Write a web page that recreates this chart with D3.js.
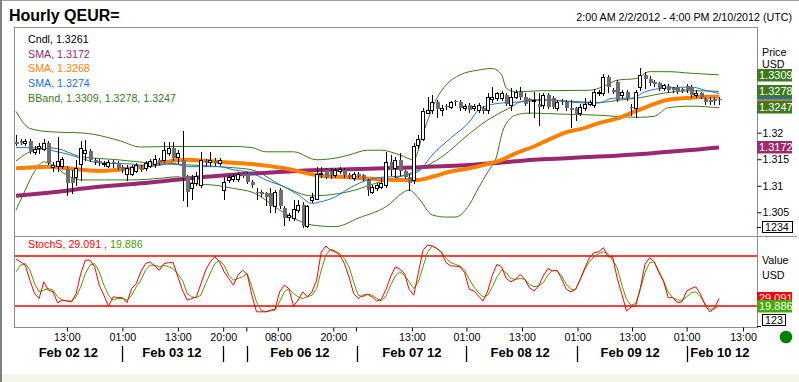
<!DOCTYPE html>
<html><head><meta charset="utf-8">
<script src="https://cdn.jsdelivr.net/npm/d3@7"></script>
<style>
html,body{margin:0;padding:0;background:#fff;overflow:hidden;}
svg{display:block;font-family:Arial,"Liberation Sans",sans-serif;}
</style></head><body>
<svg id="c" width="799" height="382"></svg>
<script>
// ---------------- data ----------------
const openP = [1.3183,1.3184,1.3180,1.3185,1.3163,1.3171,1.3169,1.3181,1.3136,1.3138,
1.3137,1.3131,1.3115,1.3116,1.3141,1.3162,1.3166,1.3149,1.3146,1.3141,
1.3138,1.3145,1.3143,1.3136,1.3123,1.3123,1.3128,1.3134,1.3133,1.3138,
1.3141,1.3149,1.3149,1.3162,1.3171,1.3154,1.3149,1.3118,1.3095,1.3105,
1.3101,1.3147,1.3145,1.3147,1.3142,1.3092,1.3111,1.3112,1.3112,1.3123,
1.3123,1.3108,1.3089,1.3088,1.3086,1.3086,1.3061,1.3092,1.3058,1.3041,
1.3039,1.3054,1.3064,1.3025,1.3073,1.3076,1.3123,1.3130,1.3127,1.3120,
1.3128,1.3130,1.3120,1.3114,1.3122,1.3120,1.3111,1.3089,1.3095,1.3098,
1.3101,1.3145,1.3133,1.3149,1.3127,1.3117,1.3111,1.3177,1.3189,1.3238,
1.3243,1.3257,1.3243,1.3250,1.3249,1.3260,1.3258,1.3247,1.3252,1.3246,
1.3243,1.3246,1.3243,1.3263,1.3265,1.3265,1.3271,1.3252,1.3268,1.3277,
1.3268,1.3263,1.3260,1.3255,1.3252,1.3271,1.3265,1.3246,1.3260,1.3258,
1.3246,1.3246,1.3237,1.3246,1.3255,1.3252,1.3274,1.3274,1.3305,1.3280,
1.3296,1.3271,1.3277,1.3249,1.3246,1.3287,1.3309,1.3302,1.3295,1.3293,
1.3284,1.3288,1.3284,1.3287,1.3282,1.3288,1.3287,1.3271,1.3274,1.3263,
1.3262,1.3263,1.3263];
const highP = [1.3196,1.3188,1.3188,1.3188,1.3175,1.3181,1.3188,1.3184,1.3145,1.3191,
1.3154,1.3137,1.3130,1.3149,1.3185,1.3186,1.3169,1.3152,1.3150,1.3147,
1.3149,1.3149,1.3147,1.3139,1.3139,1.3139,1.3143,1.3139,1.3147,1.3150,
1.3158,1.3152,1.3183,1.3183,1.3183,1.3167,1.3203,1.3120,1.3120,1.3126,
1.3164,1.3150,1.3164,1.3152,1.3152,1.3117,1.3120,1.3122,1.3126,1.3125,
1.3126,1.3111,1.3095,1.3092,1.3089,1.3095,1.3092,1.3096,1.3061,1.3049,
1.3073,1.3073,1.3070,1.3064,1.3086,1.3136,1.3136,1.3133,1.3133,1.3133,
1.3135,1.3133,1.3124,1.3126,1.3126,1.3122,1.3113,1.3101,1.3105,1.3114,
1.3164,1.3158,1.3155,1.3161,1.3130,1.3123,1.3180,1.3196,1.3246,1.3268,
1.3271,1.3262,1.3252,1.3254,1.3260,1.3262,1.3262,1.3254,1.3256,1.3254,
1.3256,1.3250,1.3274,1.3287,1.3277,1.3279,1.3275,1.3284,1.3280,1.3286,
1.3275,1.3265,1.3277,1.3274,1.3275,1.3275,1.3269,1.3262,1.3263,1.3262,
1.3262,1.3249,1.3255,1.3265,1.3262,1.3282,1.3280,1.3311,1.3309,1.3284,
1.3299,1.3280,1.3280,1.3255,1.3280,1.3321,1.3315,1.3307,1.3299,1.3296,
1.3292,1.3292,1.3287,1.3290,1.3284,1.3292,1.3290,1.3280,1.3277,1.3268,
1.3268,1.3268,1.3268];
const lowP = [1.3177,1.3179,1.3177,1.3162,1.3160,1.3162,1.3167,1.3141,1.3128,1.3128,
1.3133,1.3083,1.3087,1.3101,1.3111,1.3149,1.3147,1.3141,1.3139,1.3137,
1.3135,1.3136,1.3132,1.3126,1.3111,1.3120,1.3126,1.3128,1.3130,1.3135,
1.3136,1.3141,1.3145,1.3158,1.3149,1.3142,1.3073,1.3062,1.3076,1.3101,
1.3097,1.3139,1.3139,1.3139,1.3139,1.3075,1.3107,1.3109,1.3109,1.3117,
1.3105,1.3098,1.3076,1.3081,1.3064,1.3051,1.3051,1.3058,1.3026,1.3036,
1.3036,1.3051,1.3023,1.3023,1.3070,1.3075,1.3117,1.3115,1.3115,1.3117,
1.3124,1.3117,1.3115,1.3111,1.3117,1.3111,1.3083,1.3086,1.3092,1.3096,
1.3098,1.3120,1.3117,1.3120,1.3115,1.3092,1.3105,1.3171,1.3186,1.3237,
1.3237,1.3230,1.3233,1.3245,1.3247,1.3252,1.3243,1.3243,1.3239,1.3243,
1.3239,1.3237,1.3237,1.3258,1.3262,1.3262,1.3252,1.3243,1.3265,1.3263,
1.3252,1.3237,1.3230,1.3215,1.3246,1.3247,1.3247,1.3243,1.3254,1.3243,
1.3211,1.3224,1.3233,1.3243,1.3252,1.3249,1.3271,1.3271,1.3277,1.3275,
1.3260,1.3265,1.3262,1.3233,1.3230,1.3280,1.3284,1.3290,1.3288,1.3280,
1.3280,1.3277,1.3277,1.3275,1.3277,1.3277,1.3268,1.3268,1.3265,1.3255,
1.3255,1.3255,1.3255];
const closeP = [1.3179,1.3181,1.3184,1.3163,1.3170,1.3174,1.3181,1.3142,1.3140,1.3147,
1.3150,1.3105,1.3105,1.3133,1.3171,1.3167,1.3149,1.3144,1.3142,1.3143,
1.3145,1.3142,1.3133,1.3130,1.3133,1.3136,1.3139,1.3130,1.3143,1.3147,
1.3150,1.3143,1.3167,1.3171,1.3152,1.3161,1.3114,1.3089,1.3105,1.3118,
1.3149,1.3142,1.3149,1.3142,1.3149,1.3108,1.3117,1.3118,1.3122,1.3118,
1.3108,1.3101,1.3086,1.3085,1.3079,1.3062,1.3089,1.3061,1.3039,1.3045,
1.3057,1.3064,1.3025,1.3061,1.3079,1.3123,1.3125,1.3117,1.3120,1.3130,
1.3131,1.3120,1.3117,1.3122,1.3119,1.3114,1.3092,1.3098,1.3101,1.3105,
1.3145,1.3130,1.3149,1.3127,1.3117,1.3105,1.3174,1.3189,1.3240,1.3243,
1.3258,1.3244,1.3246,1.3248,1.3257,1.3257,1.3246,1.3250,1.3243,1.3250,
1.3252,1.3240,1.3268,1.3267,1.3274,1.3274,1.3255,1.3268,1.3277,1.3268,
1.3255,1.3260,1.3262,1.3249,1.3271,1.3249,1.3249,1.3258,1.3257,1.3246,
1.3243,1.3233,1.3248,1.3255,1.3258,1.3277,1.3277,1.3305,1.3287,1.3277,
1.3262,1.3277,1.3265,1.3246,1.3277,1.3309,1.3302,1.3293,1.3291,1.3284,
1.3289,1.3280,1.3280,1.3277,1.3279,1.3280,1.3271,1.3275,1.3268,1.3258,
1.3258,1.3260,1.3261];

// SMA / Bollinger lines, read at sampled bar positions
const smaLongIdx = [0,7,18,29,40,51,61,72,83,98,105,112,119,126,137,148,152];
const smaLongVal = [1.3081,1.3087,1.3098,1.3106,1.3116,1.3123,1.3128,1.3131,1.3134,1.3139,1.3144,1.3149,1.3152,1.3155,1.3161,1.3169,1.3172];
const smaMidIdx = [0,7,11,18,25,31,36,44,51,58,65,72,79,83,87,90,94,98,101,105,108,112,115,119,123,126,130,135,141,146,152];
const smaMidVal = [1.3133,1.3136,1.3133,1.3128,1.3133,1.3142,1.3149,1.3145,1.3141,1.3133,1.3120,1.3116,1.3112,1.3111,1.3111,1.3117,1.3127,1.3133,1.3139,1.3149,1.3161,1.3174,1.3186,1.3201,1.3209,1.3218,1.3227,1.3244,1.3262,1.3266,1.3268];
const smaShortIdx = [0,6,8,11,14,18,25,29,34,37,44,47,51,54,58,61,64,66,69,72,76,79,83,87,90,94,98,100,102,105,109,115,123,126,129,133,136,140,146,149,152];
const smaShortVal = [1.3172,1.3171,1.3166,1.3160,1.3152,1.3143,1.3141,1.3137,1.3142,1.3136,1.3136,1.3130,1.3124,1.3111,1.3098,1.3083,1.3067,1.3070,1.3079,1.3095,1.3111,1.3116,1.3118,1.3127,1.3158,1.3190,1.3220,1.3243,1.3251,1.3256,1.3258,1.3262,1.3256,1.3256,1.3265,1.3265,1.3277,1.3284,1.3286,1.3280,1.3274];
const bbUpIdx = [0,3,7,15,22,27,33,40,47,51,54,60,65,69,72,76,79,83,86,88,91,93,96,100,103,105,106,108,113,124,127,130,134,137,141,146,152];
const bbUpVal = [1.3240,1.3208,1.3202,1.3199,1.3186,1.3173,1.3174,1.3174,1.3174,1.3172,1.3164,1.3164,1.3149,1.3152,1.3158,1.3167,1.3167,1.3158,1.3149,1.3199,1.3265,1.3290,1.3309,1.3318,1.3321,1.3309,1.3284,1.3277,1.3279,1.3280,1.3287,1.3299,1.3302,1.3315,1.3315,1.3312,1.3309];
const bbMidIdx = [0,4,8,14,22,29,38,47,51,58,64,72,79,83,87,92,98,102,105,107,109,112,118,126,131,135,139,146,152];
const bbMidVal = [1.3147,1.3167,1.3171,1.3155,1.3149,1.3143,1.3139,1.3134,1.3130,1.3098,1.3081,1.3089,1.3108,1.3117,1.3130,1.3154,1.3198,1.3224,1.3239,1.3248,1.3258,1.3262,1.3260,1.3257,1.3262,1.3266,1.3273,1.3279,1.3278];
const bbLoIdx = [0,2,4,6,8,11,14,25,31,35,38,44,47,51,58,64,69,74,81,83,85,87,90,93,95,98,100,102,104,105,107,108,111,118,126,131,135,138,141,146,152];
const bbLoVal = [1.3054,1.3092,1.3127,1.3145,1.3139,1.3120,1.3111,1.3111,1.3114,1.3117,1.3105,1.3100,1.3095,1.3088,1.3049,1.3026,1.3023,1.3039,1.3067,1.3083,1.3092,1.3077,1.3045,1.3041,1.3041,1.3064,1.3096,1.3126,1.3158,1.3196,1.3228,1.3233,1.3237,1.3235,1.3233,1.3230,1.3229,1.3231,1.3247,1.3250,1.3247];

const stochK = [76,73,69,51,35,29,49,39,37,24, 27,26,25,35,59,75,75,67,45,33,
20,31,30,30,24,41,47,61,71,73, 68,63,71,72,72,55,39,27,29,31,
47,63,73,79,73,61,53,45,57,63, 58,33,13,13,13,15,16,37,45,41,
20,27,37,31,37,51,85,92,87,85, 81,71,55,35,29,33,34,31,26,28,
40,55,67,64,59,40,33,60,87,93, 92,89,84,72,68,68,67,60,40,38,
32,26,38,57,70,67,53,49,52,58, 52,42,38,44,56,65,62,63,52,40,
37,40,52,66,78,84,85,90,79,79, 53,34,14,19,20,42,70,78,73,60,
50,30,30,24,25,38,41,43,34,21, 13,17,29.091];
const stochD = [61,69,71,63,47,37,39,41,39,31, 27,26,26,31,43,59,69,71,61,45,
33,27,29,29,27,33,43,51,63,69, 69,67,69,67,65,58,51,35,31,30,
33,47,59,71,75,69,57,51,53,55, 59,43,25,15,13,14,15,25,37,41,
35,31,29,31,33,41,63,81,88,86, 83,77,67,49,33,31,34,33,29,26,
32,45,56,61,57,49,41,49,67,85, 92,89,85,77,72,70,68,63,52,43,
36,31,33,43,55,63,60,53,52,53, 52,46,43,44,48,57,63,62,56,46,
40,40,52,64,73,79,83,85,83,75, 66,45,28,21,23,40,60,72,73,62,
50,37,30,27,27,31,36,37,31,23, 16,17,19.886];

const priceTicks = [1.305,1.31,1.315,1.32,1.325,1.33];
const priceTickLbl = ["1.305","1.31","1.315","1.32","",""];
const timeTickIdx = [11,23,35,44.8,49.8,56.6,68.6,73.5,85.6,97.4,109.4,121.4,133.2,145,157.2];
const timeTickLbl = ["13:00","01:00","13:00","20:00","","08:00","20:00","","13:00","01:00","13:00","01:00","13:00","01:00","13:00"];
const dayLabels = ["Feb 02 12","Feb 03 12","Feb 06 12","Feb 07 12","Feb 08 12","Feb 09 12","Feb 10 12"];
const dayLabelIdx = [11.3,33.7,61.4,85.6,109,132.8,152.2];
const daySepIdx = [23,44.8,49.9,73.7,97.4,121.2,145];

const legendLabels = ["Cndl, 1.3261","SMA, 1.3172","SMA, 1.3268","SMA, 1.3274","BBand, 1.3309, 1.3278, 1.3247"];
const lastValues = {bbUp:1.3309, bbMid:1.3278, bbLo:1.3247, smaLong:1.3172, smaMid:1.3268, smaShort:1.3274, k:29.091, d:19.886};

// ---------------- drawing ----------------
const C = {frame:"#8c8c9c", purple:"#9a2870", orange:"#ff7f00", blue:"#1e6ee6", green:"#3c7a18",
  gray:"#6e6e6e", red:"#ff0000", sgreen:"#44a000", boxGreen:"#3d7a1e", boxSG:"#44aa00"};

const svg = d3.select("#c");
const L = 14, R = 757, T = 27, MB = 236, B = 327;

svg.append("rect").attr("width",799).attr("height",382).attr("fill","#fff");
svg.append("rect").attr("x",0).attr("y",374).attr("width",799).attr("height",8).attr("fill","#f4f4e8");
svg.append("line").attr("x1",0).attr("x2",799).attr("y1",0.5).attr("y2",0.5).attr("stroke","#a0a0a0");
svg.append("line").attr("x1",1).attr("x2",1).attr("y1",0).attr("y2",382).attr("stroke","#808080").attr("stroke-width",2);

const xs = d3.scaleLinear().domain([0,152]).range([16,719]);
const yP = d3.scaleLinear().domain([1.305,1.32]).range([212.3,132.7]);
const yS = d3.scaleLinear().domain([20,80]).range([306,256]);

// title
svg.append("text").attr("x",9).attr("y",21).attr("font-size","16px").attr("font-weight","bold").text("Hourly QEUR=");
svg.append("text").attr("x",792).attr("y",21).attr("text-anchor","end").attr("font-size","10.7px").text("2:00 AM 2/2/2012 - 4:00 PM 2/10/2012 (UTC)");

const defs = svg.append("defs");
defs.append("clipPath").attr("id","cm").append("rect").attr("x",L+1).attr("y",T+1).attr("width",R-L-1).attr("height",MB-T-1);
defs.append("clipPath").attr("id","cs").append("rect").attr("x",L+1).attr("y",MB+1).attr("width",R-L-1).attr("height",B-MB-1);

const gm = svg.append("g").attr("clip-path","url(#cm)");
const gs = svg.append("g").attr("clip-path","url(#cs)");

function pts(idx, val){ return idx.map((d,i)=>[d,val[i]]); }
const lineP = d3.line().x(d=>xs(d[0])).y(d=>yP(d[1])).curve(d3.curveMonotoneX);

// bands and SMAs
[[bbUpIdx,bbUpVal],[bbMidIdx,bbMidVal],[bbLoIdx,bbLoVal]].forEach(([a,b])=>{
  gm.append("path").attr("d",lineP(pts(a,b))).attr("fill","none").attr("stroke",C.green).attr("stroke-width",1);
});
gm.append("path").attr("d",lineP(pts(smaLongIdx,smaLongVal))).attr("fill","none").attr("stroke",C.purple).attr("stroke-width",4);
gm.append("path").attr("d",lineP(pts(smaMidIdx,smaMidVal))).attr("fill","none").attr("stroke",C.orange).attr("stroke-width",4);
gm.append("path").attr("d",lineP(pts(smaShortIdx,smaShortVal))).attr("fill","none").attr("stroke",C.blue).attr("stroke-width",1);

// candles
const candles = closeP.map((c,i)=>({i, o:openP[i], h:highP[i], l:lowP[i], c}));
const cg = gm.append("g");
candles.forEach(d=>{
  const cx = Math.round(xs(d.i));
  cg.append("line").attr("x1",cx+0.5).attr("x2",cx+0.5)
    .attr("y1",Math.round(yP(d.h))).attr("y2",Math.round(yP(d.l))+1)
    .attr("stroke","#000").attr("stroke-width",1);
  const yt = Math.round(yP(Math.max(d.o,d.c))), yb = Math.round(yP(Math.min(d.o,d.c)));
  if (d.c >= d.o){
    cg.append("rect").attr("x",cx-1.5).attr("y",yt+0.5).attr("width",3).attr("height",Math.max(1,yb-yt))
      .attr("fill","#fff").attr("stroke","#000").attr("stroke-width",1);
  } else {
    cg.append("rect").attr("x",cx-1).attr("y",yt).attr("width",4).attr("height",Math.max(1,yb-yt))
      .attr("fill",C.gray);
  }
});

// stochastic
[80,20].forEach(v=>{
  gs.append("line").attr("x1",L).attr("x2",R).attr("y1",yS(v)).attr("y2",yS(v)).attr("stroke",C.red).attr("stroke-width",1.5);
});
const lineS = d3.line().x((d,i)=>xs(i)).y(d=>yS(d));
gs.append("path").attr("d",lineS(stochD)).attr("fill","none").attr("stroke",C.sgreen).attr("stroke-width",1);
gs.append("path").attr("d",lineS(stochK)).attr("fill","none").attr("stroke",C.red).attr("stroke-width",1);

// frame
const fr = svg.append("g").attr("stroke",C.frame).attr("shape-rendering","crispEdges").attr("fill","none");
fr.append("line").attr("x1",L).attr("x2",R).attr("y1",T+0.5).attr("y2",T+0.5);
fr.append("line").attr("x1",L+0.5).attr("x2",L+0.5).attr("y1",T).attr("y2",B);
fr.append("line").attr("x1",R+0.5).attr("x2",R+0.5).attr("y1",T).attr("y2",B+1);
fr.append("line").attr("x1",L).attr("x2",R).attr("y1",B+0.5).attr("y2",B+0.5);
fr.append("line").attr("x1",L).attr("x2",797).attr("y1",MB+0.5).attr("y2",MB+0.5);

// legend
const legendColors = ["#000",C.purple,C.orange,C.blue,C.green];
legendLabels.forEach((t,i)=>{
  svg.append("text").attr("x",28).attr("y",42.7+i*14.8).attr("font-size","10.7px").attr("fill",legendColors[i]).text(t);
});
const st = svg.append("text").attr("x",28).attr("y",248).attr("font-size","10.7px");
st.append("tspan").attr("fill",C.red).text("StochS, "+lastValues.k.toFixed(3)+" , ");
st.append("tspan").attr("fill",C.sgreen).text(lastValues.d.toFixed(3));

// right price axis
const ax = svg.append("g").attr("transform",`translate(${R+0.5},0)`)
  .call(d3.axisRight(yP).tickValues(priceTicks).tickSize(4).tickPadding(1).tickFormat((d,i)=>priceTickLbl[i]));
ax.select(".domain").remove();
ax.selectAll("text").attr("font-size","10.7px").attr("font-family","Arial, 'Liberation Sans', sans-serif").attr("fill","#000");
ax.selectAll("line").attr("stroke","#000");
svg.append("text").attr("x",762).attr("y",56).attr("font-size","10.7px").text("Price");
svg.append("text").attr("x",762).attr("y",68).attr("font-size","10.7px").text("USD");
svg.append("text").attr("x",762).attr("y",264).attr("font-size","10.7px").text("Value");
svg.append("text").attr("x",762).attr("y",279).attr("font-size","10.7px").text("USD");

// value boxes
function vbox(y, txt, fill){
  const g = svg.append("g");
  const top = Math.round(y-6.3);
  g.append("rect").attr("x",757).attr("y",top).attr("width",35).attr("height",12.5).attr("fill",fill);
  if (txt) g.append("text").attr("x",759).attr("y",top+10.3).attr("font-size","11px").attr("fill","#fff").text(txt);
}
vbox(yP(lastValues.smaMid),null,C.orange);
vbox(yP(lastValues.smaShort),null,C.blue);
vbox(yP(lastValues.bbMid),"1.3278",C.boxGreen);
vbox(yP(lastValues.bbUp),"1.3309",C.boxGreen);
vbox(yP(lastValues.bbLo),"1.3247",C.boxGreen);
vbox(yP(lastValues.smaLong),"1.3172","#9b2d6f");
vbox(yS(lastValues.k),"29.091",C.red);
vbox(yS(lastValues.d),"19.886",C.boxSG);

function obox(x,y,w,txt){
  svg.append("rect").attr("x",x+0.5).attr("y",y+0.5).attr("width",w).attr("height",11).attr("fill","#fff").attr("stroke","#000");
  svg.append("text").attr("x",x+3).attr("y",y+10).attr("font-size","10.7px").text(txt);
}
svg.append("line").attr("x1",757).attr("x2",761).attr("y1",227.5).attr("y2",227.5).attr("stroke","#000");
obox(762,221,30,"1234");
svg.append("line").attr("x1",757).attr("x2",761).attr("y1",326.5).attr("y2",326.5).attr("stroke","#000");
obox(762,314,23,"123");
svg.append("circle").attr("cx",786).attr("cy",337).attr("r",6.3).attr("fill","#008000");

// bottom axis
const bx = svg.append("g").attr("transform",`translate(0,${B+0.5})`)
  .call(d3.axisBottom(xs).tickValues(timeTickIdx).tickSize(4).tickPadding(2).tickFormat((d,i)=>timeTickLbl[i]));
bx.select(".domain").remove();
bx.selectAll("line").attr("stroke","#000");
bx.selectAll("text").attr("font-size","10.7px").attr("font-family","Arial, 'Liberation Sans', sans-serif").attr("fill","#000");
dayLabels.forEach((t,i)=>{
  svg.append("text").attr("x",xs(dayLabelIdx[i])).attr("y",357).attr("text-anchor","middle")
    .attr("font-size","13px").attr("font-weight","bold").text(t);
});
daySepIdx.forEach(v=>{
  const x = Math.round(xs(v))+0.5;
  svg.append("line").attr("x1",x).attr("x2",x).attr("y1",346).attr("y2",362).attr("stroke","#000").attr("stroke-width",1.3);
});
</script></body></html>
